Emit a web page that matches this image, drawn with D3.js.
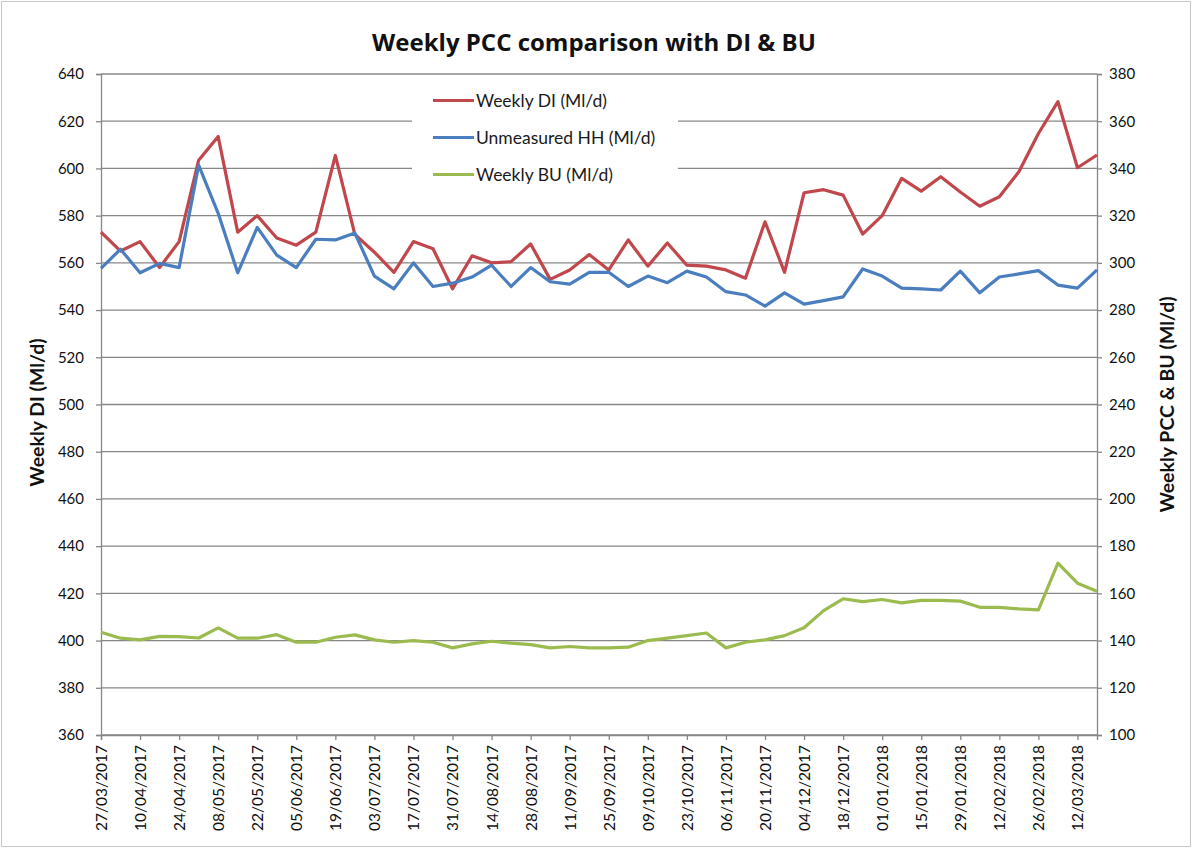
<!DOCTYPE html>
<html>
<head>
<meta charset="utf-8">
<script src="https://cdn.jsdelivr.net/npm/d3@7"></script>
<style>
  html, body { margin: 0; padding: 0; background: #fff; }
  svg { display: block; font-family: Lato, "Open Sans", sans-serif; }
</style>
</head>
<body>
<div id="chart"></div>
<script>
// Weekly dates (categories)
const weeks = [
  "27/03/2017", "03/04/2017", "10/04/2017", "17/04/2017", "24/04/2017", "01/05/2017", "08/05/2017",
  "15/05/2017", "22/05/2017", "29/05/2017", "05/06/2017", "12/06/2017", "19/06/2017", "26/06/2017",
  "03/07/2017", "10/07/2017", "17/07/2017", "24/07/2017", "31/07/2017", "07/08/2017", "14/08/2017",
  "21/08/2017", "28/08/2017", "04/09/2017", "11/09/2017", "18/09/2017", "25/09/2017", "02/10/2017",
  "09/10/2017", "16/10/2017", "23/10/2017", "30/10/2017", "06/11/2017", "13/11/2017", "20/11/2017",
  "27/11/2017", "04/12/2017", "11/12/2017", "18/12/2017", "25/12/2017", "01/01/2018", "08/01/2018",
  "15/01/2018", "22/01/2018", "29/01/2018", "05/02/2018", "12/02/2018", "19/02/2018", "26/02/2018",
  "05/03/2018", "12/03/2018", "19/03/2018"
];

// Weekly DI (left axis)
const weeklyDI = [
  573, 565, 569, 558, 569, 603.5, 613.5, 573, 580, 570.5,
  567.5, 573, 605.5, 572, 564.5, 556, 569, 566, 549, 563,
  560, 560.5, 568, 553, 557, 563.5, 557, 569.7, 558.6, 568.4,
  559, 558.6, 557, 553.5, 577.4, 556, 589.7, 591, 588.7, 572.2,
  580, 595.8, 590.4, 596.5, 590, 584, 588, 598.6, 614.8, 628.3,
  600.3, 605.7
];

// Unmeasured HH (right axis)
const unmeasuredHH = [
  297.7, 305.8, 295.8, 299.8, 298, 341.4, 321, 295.8, 315, 303.3,
  298, 310, 309.7, 312.6, 294.4, 289, 300, 290, 291.4, 294,
  299, 290, 298, 292, 291, 296, 296, 290, 294.4, 291.6,
  296.5, 294, 287.8, 286.4, 281.7, 287.3, 282.5, 284, 285.6, 297.4,
  294.4, 289.3, 289, 288.5, 296.5, 287.3, 294, 295.3, 296.7, 290.6,
  289.3, 297
];

// Weekly BU (right axis)
const weeklyBU = [
  143.5, 141, 140.3, 141.8, 141.7, 141.1, 145.4, 141, 141, 142.5,
  139.3, 139.3, 141.4, 142.4, 140.3, 139.3, 140, 139.3, 136.9, 138.6,
  139.7, 138.9, 138.3, 136.9, 137.5, 136.9, 136.9, 137.2, 140, 141,
  142.1, 143.2, 136.9, 139.3, 140.3, 142.1, 145.4, 152.7, 157.7, 156.5,
  157.4, 156, 157, 157, 156.7, 154.1, 154.1, 153.4, 153, 172.8,
  164.3, 160.9
];

const leftTicks = [360, 380, 400, 420, 440, 460, 480, 500, 520, 540, 560, 580, 600, 620, 640];
const rightTicks = [100, 120, 140, 160, 180, 200, 220, 240, 260, 280, 300, 320, 340, 360, 380];

const series = [
  { name: "Weekly DI (Ml/d)", values: weeklyDI, axis: "left", color: "#c0474b" },
  { name: "Unmeasured HH (Ml/d)", values: unmeasuredHH, axis: "right", color: "#4a7ebf" },
  { name: "Weekly BU (Ml/d)", values: weeklyBU, axis: "right", color: "#9bbb4f" }
];

const width = 1192, height = 848;
const margin = { top: 74, right: 95, bottom: 113, left: 101 };
const plotW = width - margin.left - margin.right;
const plotH = height - margin.top - margin.bottom;

const parseDate = d3.timeParse("%d/%m/%Y");
const dates = weeks.map(parseDate);

const x = d3.scaleTime()
  .domain([dates[0], dates[dates.length - 1]])
  .range([0, plotW]);
const yLeft = d3.scaleLinear().domain([360, 640]).range([plotH, 0]);
const yRight = d3.scaleLinear().domain([100, 380]).range([plotH, 0]);

const svg = d3.select("#chart")
  .append("svg")
  .attr("width", width)
  .attr("height", height);

// outer chart border
svg.append("rect")
  .attr("x", 1.5).attr("y", 1.5)
  .attr("width", width - 3).attr("height", height - 3)
  .attr("fill", "#fff")
  .attr("stroke", "#c8c8c8");

// Title
svg.append("text")
  .attr("x", 594)
  .attr("y", 51)
  .attr("text-anchor", "middle")
  .style("font-family", "'Open Sans', sans-serif")
  .style("font-size", "24px")
  .style("font-weight", "bold")
  .attr("fill", "#111")
  .text("Weekly PCC comparison with DI & BU");

const g = svg.append("g")
  .attr("transform", `translate(${margin.left}, ${margin.top})`);

const gridColor = "#878787";

// Gridlines
g.append("g")
  .selectAll("line")
  .data(leftTicks)
  .enter()
  .append("line")
  .attr("x1", 0)
  .attr("x2", plotW)
  .attr("y1", d => yLeft(d))
  .attr("y2", d => yLeft(d))
  .attr("stroke", gridColor)
  .attr("stroke-width", 1.3);

// Legend box (white, covers gridlines)
const legend = g.append("g")
  .attr("transform", `translate(${412 - margin.left}, ${82 - margin.top})`);
legend.append("rect")
  .attr("width", 266)
  .attr("height", 116)
  .attr("fill", "#fff");

// Axes
const leftAxis = g.append("g")
  .call(d3.axisLeft(yLeft).tickValues(leftTicks).tickSize(5).tickPadding(12));
const rightAxis = g.append("g")
  .attr("transform", `translate(${plotW}, 0)`)
  .call(d3.axisRight(yRight).tickValues(rightTicks).tickSize(5).tickPadding(7));
const bottomAxis = g.append("g")
  .attr("transform", `translate(0, ${plotH})`)
  .call(d3.axisBottom(x)
    .tickValues(dates.filter((d, i) => i % 2 === 0))
    .tickFormat(d3.timeFormat("%d/%m/%Y"))
    .tickSize(5)
    .tickPadding(4));

[leftAxis, rightAxis, bottomAxis].forEach(ax => {
  ax.select(".domain").attr("stroke", gridColor).attr("stroke-width", 1.3);
  ax.selectAll(".tick line").attr("stroke", gridColor).attr("stroke-width", 1.3);
  ax.selectAll("text").attr("fill", "#111").style("font-family", "Lato, sans-serif");
});
leftAxis.selectAll("text").style("font-size", "15px");
rightAxis.selectAll("text").style("font-size", "15px");
bottomAxis.selectAll("text")
  .style("font-size", "15.5px")
  .style("text-anchor", "end")
  .attr("transform", "rotate(-90)")
  .attr("x", -10)
  .attr("y", 0)
  .attr("dy", "0.35em");

// Lines
series.forEach(s => {
  const yScale = s.axis === "left" ? yLeft : yRight;
  const line = d3.line()
    .x((d, i) => x(dates[i]))
    .y(d => yScale(d));
  g.append("path")
    .datum(s.values)
    .attr("fill", "none")
    .attr("stroke", s.color)
    .attr("stroke-width", 3.2)
    .attr("stroke-linejoin", "round")
    .attr("d", line);
});

// Legend entries
series.forEach((s, i) => {
  const row = legend.append("g")
    .attr("transform", `translate(0, ${18.5 + i * 37})`);
  row.append("line")
    .attr("x1", 21).attr("x2", 62)
    .attr("y1", 0).attr("y2", 0)
    .attr("stroke", s.color)
    .attr("stroke-width", 3.2);
  row.append("text")
    .attr("x", 64)
    .attr("y", 0)
    .attr("dy", "0.35em")
    .style("font-size", "17.5px")
    .attr("fill", "#1a1a1a")
    .text(s.name);
});

// Axis titles
svg.append("text")
  .attr("transform", `translate(44, ${margin.top + plotH / 2 + 8}) rotate(-90)`)
  .attr("text-anchor", "middle")
  .style("font-size", "19.5px")
  .style("font-weight", "bold")
  .attr("fill", "#111")
  .text("Weekly DI (Ml/d)");

svg.append("text")
  .attr("transform", `translate(1174, ${margin.top + plotH / 2}) rotate(-90)`)
  .attr("text-anchor", "middle")
  .style("font-size", "19.5px")
  .style("font-weight", "bold")
  .attr("fill", "#111")
  .text("Weekly PCC & BU (Ml/d)");
</script>
</body>
</html>
